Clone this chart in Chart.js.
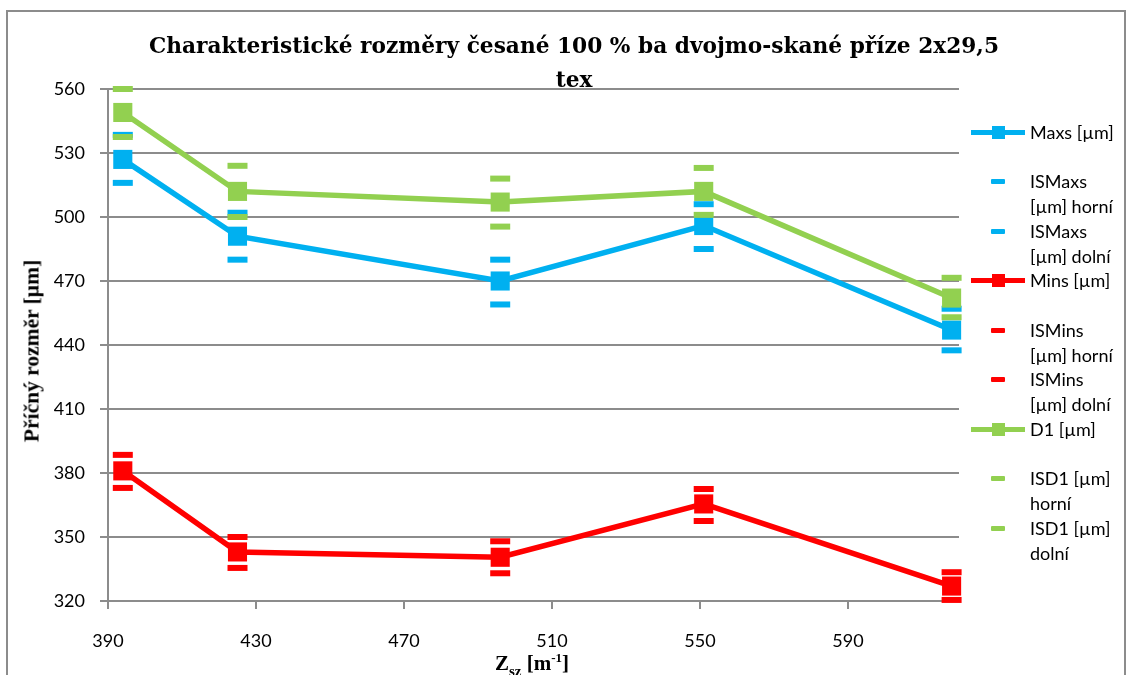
<!DOCTYPE html>
<html>
<head>
<meta charset="utf-8">
<script src="https://cdn.jsdelivr.net/npm/chart.js@4.4.1/dist/chart.umd.min.js"></script>
<style>
  body { margin: 0; background: #fff; overflow: hidden; }
  #wrap { position: relative; width: 1130px; height: 675px; overflow: hidden; font-family: Lato, sans-serif; }
  #ramecek { position: absolute; left: 6px; top: 10px; width: 1120px; height: 720px; border: 2px solid #8c8c8c; box-sizing: border-box; }
  #graf { position: absolute; left: 0; top: 0; }
  #titulek { position: absolute; left: 0; top: 29px; width: 1148px; text-align: center;
    font: bold 21.7px "DejaVu Serif", serif; line-height: 34px; color: #000; }
  #osaY { position: absolute; left: 32px; top: 351px; transform: translate(-50%, -50%) rotate(-90deg);
    white-space: nowrap; font: bold 21.5px "Liberation Serif", serif; color: #000; }
  #osaX { position: absolute; left: 532px; top: 650px; transform: translateX(-50%);
    white-space: nowrap; font: bold 21px "Liberation Serif", serif; color: #000; }
  #osaX sub { font-size: 15px; vertical-align: -6px; }
  #osaX sup { font-size: 13px; vertical-align: 8px; }
  .polozka { position: absolute; left: 1030px; font-size: 18px; line-height: 25px; color: #000; white-space: nowrap; }
  .ikona { position: absolute; }
</style>
</head>
<body>
<div id="wrap">
  <div id="ramecek"></div>
  <canvas id="graf" width="1130" height="675"></canvas>
  <div id="titulek">Charakteristické rozměry česané 100 % ba dvojmo-skané příze 2x29,5<br>tex</div>
  <div id="osaY">Příčný rozměr [µm]</div>
  <div id="osaX">Z<sub>sz</sub> [m<sup>-1</sup>]</div>
  <div id="legenda"></div>
</div>
<script>
// data
const zsz = [394, 425, 496, 551, 618];
const maxs = [527, 491, 470, 496, 447];
const isMaxsHorni = [538.5, 502, 480, 506, 457];
const isMaxsDolni = [516, 480, 459, 485, 437.5];
const mins = [381, 343, 340.5, 365.5, 327];
const isMinsHorni = [388.5, 350, 348, 372.5, 333.5];
const isMinsDolni = [373, 335.5, 333, 357.5, 320.5];
const d1 = [549, 512, 507, 512, 462];
const isD1Horni = [560, 524, 518, 523, 471.5];
const isD1Dolni = [537.5, 500, 495.5, 501, 453];
const xTicky = [390, 430, 470, 510, 550, 590];

const modra = "#00B0F0";
const cervena = "#FF0000";
const zelena = "#92D050";
const seda = "#8c8c8c";

function body(hodnoty) {
  return zsz.map((x, i) => ({ x: x, y: hodnoty[i] }));
}

function hlavni(nazev, hodnoty, barva, poradi) {
  return {
    label: nazev,
    data: body(hodnoty),
    borderColor: barva,
    backgroundColor: barva,
    borderWidth: 5.5,
    pointStyle: "rect",
    pointRadius: 13.5,
    pointHoverRadius: 13.5,
    pointBorderWidth: 0,
    order: poradi,
    clip: false
  };
}

function chyba(nazev, hodnoty, barva, poradi) {
  return {
    label: nazev,
    data: body(hodnoty),
    showLine: false,
    borderColor: barva,
    backgroundColor: barva,
    pointStyle: "line",
    pointRadius: 10,
    pointHoverRadius: 10,
    pointBorderWidth: 6,
    order: poradi,
    clip: false
  };
}

const pismo = { family: "Lato", size: 18 };

new Chart(document.getElementById("graf"), {
  type: "line",
  data: {
    datasets: [
      hlavni("Maxs [µm]", maxs, modra, 2),
      chyba("ISMaxs [µm] horní", isMaxsHorni, modra, 2),
      chyba("ISMaxs [µm] dolní", isMaxsDolni, modra, 2),
      hlavni("Mins [µm]", mins, cervena, 1),
      chyba("ISMins [µm] horní", isMinsHorni, cervena, 1),
      chyba("ISMins [µm] dolní", isMinsDolni, cervena, 1),
      hlavni("D1 [µm]", d1, zelena, 0),
      chyba("ISD1 [µm] horní", isD1Horni, zelena, 0),
      chyba("ISD1 [µm] dolní", isD1Dolni, zelena, 0)
    ]
  },
  options: {
    responsive: false,
    animation: false,
    events: [],
    layout: { padding: { top: 89, right: 171, bottom: 0, left: 0 } },
    plugins: {
      legend: { display: false },
      title: { display: false },
      tooltip: { enabled: false }
    },
    scales: {
      x: {
        type: "linear",
        min: 390,
        max: 620,
        afterBuildTicks: s => { s.ticks = xTicky.map(v => ({ value: v })); },
        afterFit: s => { s.height = 74; },
        grid: { drawOnChartArea: false, drawTicks: true, tickLength: 8, color: seda, lineWidth: 2 },
        border: { color: seda, width: 2 },
        ticks: { padding: 21, font: pismo, color: "#000", maxRotation: 0, autoSkip: false }
      },
      y: {
        min: 320,
        max: 560,
        afterFit: s => { s.width = 108; },
        grid: { color: seda, lineWidth: 2, tickLength: 8 },
        border: { color: seda, width: 2 },
        ticks: { stepSize: 30, padding: 15, font: pismo, color: "#000" }
      }
    }
  }
});

// legenda vpravo
const legendaNazvy = [
  "Maxs [µm]",
  "ISMaxs<br>[µm] horní",
  "ISMaxs<br>[µm] dolní",
  "Mins [µm]",
  "ISMins<br>[µm] horní",
  "ISMins<br>[µm] dolní",
  "D1 [µm]",
  "ISD1 [µm]<br>horní",
  "ISD1 [µm]<br>dolní"
];
const legendaBarvy = [modra, modra, modra, cervena, cervena, cervena, zelena, zelena, zelena];
const legendaHlavni = [true, false, false, true, false, false, true, false, false];

const legenda = document.getElementById("legenda");
legendaNazvy.forEach((nazev, i) => {
  const y = 132 + i * 49.5;
  const barva = legendaBarvy[i];

  const txt = document.createElement("div");
  txt.className = "polozka";
  txt.style.top = (y - 12.5) + "px";
  txt.innerHTML = nazev;
  legenda.appendChild(txt);

  if (legendaHlavni[i]) {
    const car = document.createElement("div");
    car.className = "ikona";
    car.style.cssText = `left:971px;top:${y - 2.5}px;width:54px;height:5px;background:${barva}`;
    legenda.appendChild(car);
    const ctv = document.createElement("div");
    ctv.className = "ikona";
    ctv.style.cssText = `left:991.5px;top:${y - 6.5}px;width:13px;height:13px;background:${barva}`;
    legenda.appendChild(ctv);
  } else {
    const pom = document.createElement("div");
    pom.className = "ikona";
    pom.style.cssText = `left:991px;top:${y - 2.5}px;width:14px;height:5px;background:${barva};border-radius:1px`;
    legenda.appendChild(pom);
  }
});
</script>
</body>
</html>
